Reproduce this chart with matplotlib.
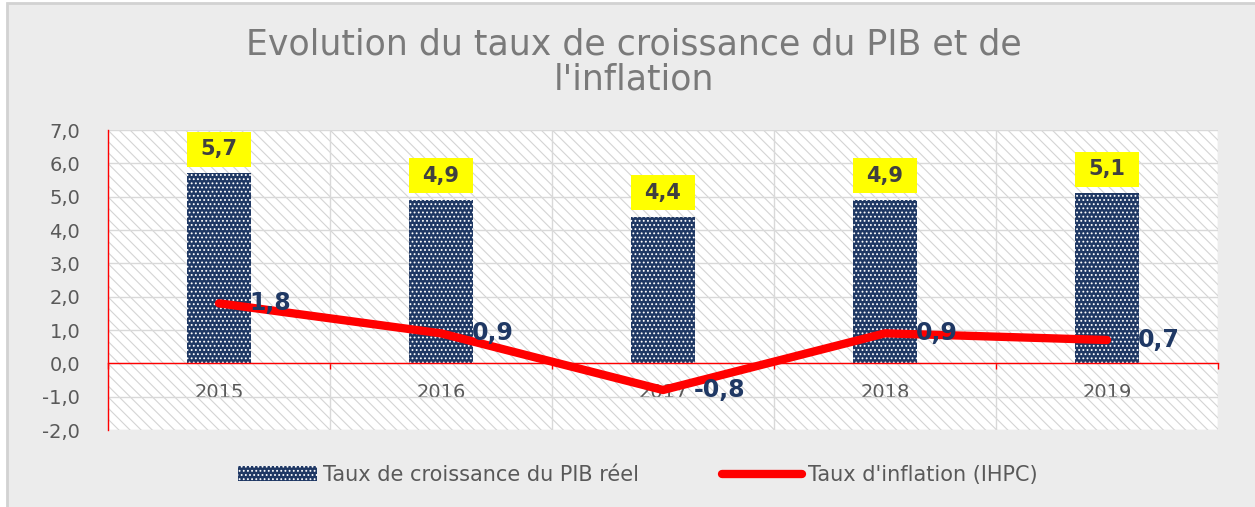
import matplotlib
matplotlib.use("Agg")
import matplotlib.pyplot as plt
from matplotlib.patches import Rectangle
import numpy as np

years = ["2015", "2016", "2017", "2018", "2019"]
pib = [5.7, 4.9, 4.4, 4.9, 5.1]
inflation = [1.8, 0.9, -0.8, 0.9, 0.7]
yticks = np.arange(-2, 8, 1)

navy = "#1F3864"
grey_txt = "#595959"

plt.rcParams["font.family"] = "DejaVu Sans"
plt.rcParams["hatch.linewidth"] = 0.8

fig = plt.figure(figsize=(12.55, 5.07), dpi=100, facecolor="white")
# chart area background with its thin border (left and top only visible)
fig.patches.append(Rectangle((7 / 1255, -0.1), 1.1, 1 - 3 / 507 + 0.1,
                             transform=fig.transFigure, facecolor="#ececec",
                             edgecolor="#d2d2d2", lw=2, zorder=-10))

ax = fig.add_axes([108 / 1255, 1 - 430 / 507, 1110 / 1255, 300 / 507])
ax.patch.set_facecolor("white")
ax.patch.set_hatch("\\\\\\")
ax.patch.set_edgecolor("#d4d4d4")
ax.patch.set_linewidth(0)

x = np.arange(len(years))
bw = 0.285
bars = ax.bar(x, pib, width=bw, color=navy, edgecolor="white", lw=0,
              hatch="....", zorder=2)
line, = ax.plot(x, inflation, color="red", lw=6, solid_capstyle="round",
                zorder=4)

# yellow value boxes above bars
for xi, v in zip(x, pib):
    ax.add_patch(Rectangle((xi - bw / 2, v + 0.2), bw, 1.05,
                           facecolor="#ffff00", lw=0, zorder=5))
    ax.text(xi, v + 0.2 + 0.525, f"{v:.1f}".replace(".", ","), ha="center",
            va="center", fontsize=15, fontweight="bold", color="#404040",
            zorder=6)

for xi, v in zip(x, inflation):
    ax.annotate(f"{v:.1f}".replace(".", ","), (xi, v), xytext=(22, 0),
                textcoords="offset points", ha="left", va="center",
                fontsize=17, fontweight="bold", color=navy, zorder=6)

ax.set_xlim(-0.5, len(years) - 0.5)
ax.set_ylim(-2, 7)
ax.set_yticks(yticks)
ax.set_yticklabels([f"{t:.1f}".replace(".", ",") for t in yticks])
ax.set_xticks(x)
ax.set_xticklabels(years)
ax.set_xticks(np.arange(-0.5, len(years)), minor=True)

ax.tick_params(axis="y", length=0, pad=20, labelsize=14, labelcolor=grey_txt)
ax.tick_params(axis="x", which="major", length=0, pad=14, labelsize=14,
               labelcolor=grey_txt)
ax.tick_params(axis="x", which="minor", length=4, color="red", width=1)

ax.grid(axis="y", which="major", color="#d9d9d9", lw=1)
ax.grid(axis="x", which="minor", color="#d9d9d9", lw=1)

for s in ["top", "right"]:
    ax.spines[s].set_visible(False)
ax.spines["left"].set_color("red")
ax.spines["left"].set_linewidth(1)
ax.spines["bottom"].set_position(("data", 0))
ax.spines["bottom"].set_color("red")
ax.spines["bottom"].set_linewidth(1)

fig.text(0.505, 1 - 62 / 507,
         "Evolution du taux de croissance du PIB et de\nl'inflation",
         ha="center", va="center", fontsize=25, color="#7a7a7a",
         linespacing=1.05)

fig.legend([bars, line],
           ["Taux de croissance du PIB réel", "Taux d'inflation (IHPC)"],
           loc="center", bbox_to_anchor=(0.508, 1 - 475 / 507), ncol=2,
           frameon=False, fontsize=15, labelcolor=grey_txt, handlelength=3.8,
           handletextpad=0.3, columnspacing=4)

fig.savefig("out.png", dpi=100, facecolor=fig.get_facecolor())
